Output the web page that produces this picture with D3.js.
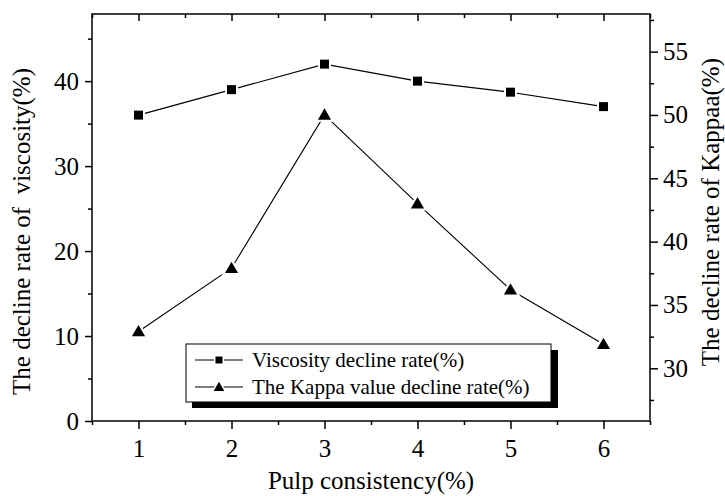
<!DOCTYPE html>
<html><head><meta charset="utf-8">
<script src="https://cdn.jsdelivr.net/npm/d3@7"></script>
<style>
body{margin:0;background:#fff;}
svg{display:block;}
text{font-family:"Liberation Serif","Times New Roman",serif;fill:#000;}
</style></head>
<body>
<svg id="chart" width="725" height="496"></svg>
<script>
// ---- data ----
const consistency = [1, 2, 3, 4, 5, 6];
const viscosityDecline = [36, 39, 42, 40, 38.7, 37];
const kappaDecline = [32.9, 37.9, 50, 43, 36.2, 31.9];
const xTickLabels = [1, 2, 3, 4, 5, 6];
const leftTickLabels = [0, 10, 20, 30, 40];
const rightTickLabels = [30, 35, 40, 45, 50, 55];
const seriesNames = ["Viscosity decline rate(%)", "The Kappa value decline rate(%)"];

// ---- layout ----
const svg = d3.select("#chart");
const L = 92, R = 650, T = 14, B = 421;

const x = d3.scaleLinear().domain([0.5, 6.5]).range([L, R]);
const yL = d3.scaleLinear().domain([0, 47.9]).range([B, T]);
const yR = d3.scaleLinear().domain([25.84, 57.97]).range([B, T]);

const fontSize = 25;
function styleAxis(g){
  g.select(".domain").remove();
  g.selectAll("line").attr("stroke","#000").attr("stroke-width",1.5);
  g.selectAll("text").attr("font-size",fontSize).attr("font-family","Liberation Serif").attr("fill","#000");
}

const xMinor = d3.range(0.5, 6.51, 0.5).filter(v => v % 1 !== 0);
const lMinor = d3.range(5, 46, 10);
const rMinor = d3.range(27.5, 58, 5);

// bottom axis (outward)
svg.append("g").attr("transform",`translate(0,${B})`)
  .call(d3.axisBottom(x).tickValues(xTickLabels).tickSizeInner(8).tickSizeOuter(0).tickPadding(10).tickFormat(d3.format("d")))
  .call(styleAxis);
svg.append("g").attr("transform",`translate(0,${B})`)
  .call(d3.axisBottom(x).tickValues(xMinor).tickSizeInner(4).tickSizeOuter(0).tickFormat(""))
  .call(styleAxis);
// top axis (inward)
svg.append("g").attr("transform",`translate(0,${T})`)
  .call(d3.axisBottom(x).tickValues(xTickLabels).tickSizeInner(7).tickSizeOuter(0).tickFormat(""))
  .call(styleAxis);
svg.append("g").attr("transform",`translate(0,${T})`)
  .call(d3.axisBottom(x).tickValues(xMinor).tickSizeInner(4).tickSizeOuter(0).tickFormat(""))
  .call(styleAxis);
// left axis
svg.append("g").attr("transform",`translate(${L},0)`)
  .call(d3.axisLeft(yL).tickValues(leftTickLabels).tickSizeInner(7).tickSizeOuter(0).tickPadding(6).tickFormat(d3.format("d")))
  .call(styleAxis);
svg.append("g").attr("transform",`translate(${L},0)`)
  .call(d3.axisLeft(yL).tickValues(lMinor).tickSizeInner(4).tickSizeOuter(0).tickFormat(""))
  .call(styleAxis);
// right axis
svg.append("g").attr("transform",`translate(${R},0)`)
  .call(d3.axisRight(yR).tickValues(rightTickLabels).tickSizeInner(8).tickSizeOuter(0).tickPadding(5).tickFormat(d3.format("d")))
  .call(styleAxis);
svg.append("g").attr("transform",`translate(${R},0)`)
  .call(d3.axisRight(yR).tickValues(rMinor).tickSizeInner(4).tickSizeOuter(0).tickFormat(""))
  .call(styleAxis);

// frame
svg.append("rect").attr("x",L).attr("y",T).attr("width",R-L).attr("height",B-T)
  .attr("fill","none").attr("stroke","#000").attr("stroke-width",1.5);

// series
const lineV = d3.line().x((d,i)=>x(consistency[i])).y(d=>yL(d));
const lineK = d3.line().x((d,i)=>x(consistency[i])).y(d=>yR(d));
svg.append("path").attr("d",lineV(viscosityDecline)).attr("fill","none").attr("stroke","#000").attr("stroke-width",1.1);
svg.append("path").attr("d",lineK(kappaDecline)).attr("fill","none").attr("stroke","#000").attr("stroke-width",1.1);

const sq = d3.symbol().type(d3.symbolSquare).size(81);
const tri = d3.symbol().type(d3.symbolTriangle).size(75);
svg.append("g").selectAll("path").data(viscosityDecline).join("path")
  .attr("d",sq).attr("transform",(d,i)=>`translate(${x(consistency[i])},${yL(d)})`)
  .attr("fill","#000").attr("stroke","#fff").attr("stroke-width",4).style("paint-order","stroke");
svg.append("g").selectAll("path").data(kappaDecline).join("path")
  .attr("d",tri).attr("transform",(d,i)=>`translate(${x(consistency[i])},${yR(d)+1})`)
  .attr("fill","#000").attr("stroke","#fff").attr("stroke-width",4).style("paint-order","stroke");

// axis titles
svg.append("text").attr("x",(L+R)/2).attr("y",489).attr("text-anchor","middle")
  .attr("font-size",fontSize).text("Pulp consistency(%)");
svg.append("text").attr("transform",`translate(30,${68}) rotate(-90)`).attr("text-anchor","end")
  .attr("font-size",fontSize).style("white-space","pre").text("The decline rate of  viscosity(%)");
svg.append("text").attr("transform",`translate(719,${58}) rotate(-90)`).attr("text-anchor","end")
  .attr("font-size",fontSize).text("The decline rate of Kappaa(%)");

// legend
const lg = svg.append("g");
lg.append("rect").attr("x",192).attr("y",350).attr("width",366).attr("height",58).attr("fill","#000");
lg.append("rect").attr("x",186).attr("y",344).attr("width",365).attr("height",58).attr("fill","#fff").attr("stroke","#000").attr("stroke-width",1);
const rows = [{y:360, sym:d3.symbol().type(d3.symbolSquare).size(49)}, {y:387, sym:d3.symbol().type(d3.symbolTriangle).size(50)}];
rows.forEach((r,i)=>{
  lg.append("line").attr("x1",195).attr("x2",243).attr("y1",r.y).attr("y2",r.y).attr("stroke","#000").attr("stroke-width",1);
  lg.append("path").attr("d",r.sym).attr("transform",`translate(219,${r.y + (i===1?1:0)})`)
    .attr("fill","#000").attr("stroke","#fff").attr("stroke-width",3).style("paint-order","stroke");
  lg.append("text").attr("x",252).attr("y",r.y+7).attr("font-size",21).text(seriesNames[i]);
});
</script>
</body></html>
